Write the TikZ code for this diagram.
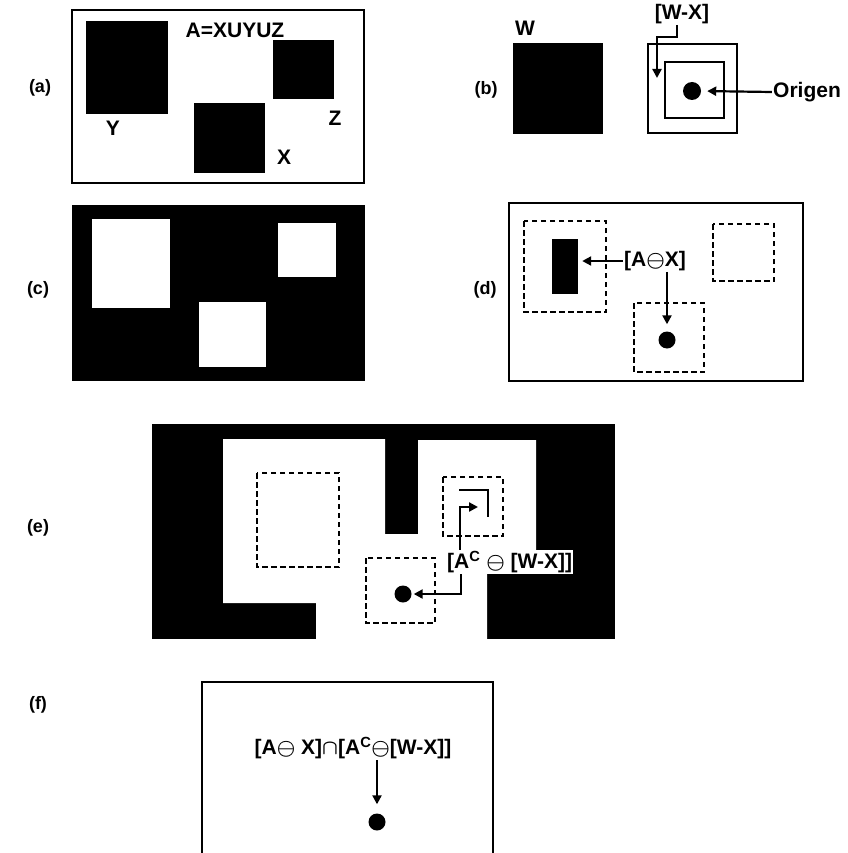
\documentclass[tikz,border=0pt]{standalone}
\usepackage{fontspec}
\setmainfont{Liberation Sans}
\usetikzlibrary{arrows.meta}
\begin{document}
\begin{tikzpicture}[x=1pt,y=-1pt,
    frame/.style={line width=2.4pt},
    dashbox/.style={line width=2.6pt,dash pattern=on 5.5pt off 3.5pt},
    arr/.style={line width=2.2pt,-{Triangle[length=9pt,width=9pt]}},
    lbl/.style={font=\fontsize{21}{23}\selectfont\bfseries\boldmath,inner sep=1pt},
    tag/.style={font=\fontsize{18}{20}\selectfont\bfseries},
    dot/.style={circle,fill,inner sep=0pt,minimum size=17pt}]
    \useasboundingbox (0,0) rectangle (847,853);
    % (a)
    \node[tag] (ta) at (40,88) {(a)};
    \draw[frame] (72,10) rectangle (364,183);
    \fill (86,21) rectangle (168,114);
    \fill (273,40) rectangle (334,99);
    \fill (194,103) rectangle (265,173);
    \node[lbl] (eqa) at (235,30) {A=XUYUZ};
    \node[lbl] (ly) at (113,128) {Y};
    \node[lbl] (lz) at (335,118) {Z};
    \node[lbl] (lx) at (284,157) {X};
    % (b)
    \node[tag] (tb) at (486,90) {(b)};
    \fill (513,43) rectangle (603,134);
    \node[lbl] (lw) at (525,28) {W};
    \draw[frame] (648,44) rectangle (737,133);
    \draw[frame] (665,62) rectangle (724,118);
    \node[dot,minimum size=18pt] (orig) at (692,91) {};
    \node[lbl] (lorig) at (807,92) {Origen};
    \draw[arr,shorten >=6pt] (lorig.west) -- (orig.east);
    \node[lbl] (wx) at (682,14) {[W-X]};
    \coordinate (ring) at (657,78);
    \draw[arr] ([xshift=-5pt]wx.south) |- (ring |- 0,37) -- (ring);
    % (c)
    \node[tag] (tc) at (38,290) {(c)};
    \fill (72,205) rectangle (365,381);
    \fill[white] (92,219) rectangle (170,308);
    \fill[white] (278,223) rectangle (336,277);
    \fill[white] (199,302) rectangle (266,367);
    % (d)
    \node[tag] (td) at (485,290) {(d)};
    \draw[frame] (509,203) rectangle (803,381);
    \draw[dashbox] (524,221) rectangle (606,312);
    \draw[dashbox] (713,224) rectangle (774,281);
    \draw[dashbox] (634,303) rectangle (704,372);
    \node[fill,inner sep=0pt,minimum width=26pt,minimum height=55pt] (ero) at (565,266) {};
    \node[lbl] (ax) at (655,261) {[A$\ominus$X]};
    \node[dot] (dotd) at (667,340) {};
    \draw[arr,shorten >=4pt] (ax.west) -- (ax.west -| ero.east);
    \draw[arr,shorten >=7pt] (ax.south -| dotd) -- (dotd.north);
    % (e)
    \node[tag] (te) at (38,528) {(e)};
    \fill (152,424) rectangle (615,639);
    \fill[white] (223,439) -- (385,439) -- (385,534) -- (418,534) -- (418,440)
        -- (536,440) -- (536,573) -- (487,573) -- (487,639) -- (316,639)
        -- (316,603) -- (223,603) -- cycle;
    \draw[dashbox] (257,473) rectangle (339,567);
    \draw[dashbox] (443,477) rectangle (503,536);
    \draw[dashbox] (366,558) rectangle (435,623);
    \draw[line width=1.8pt] (459,490) -- (488,490) -- (488,517);
    \coordinate (ecorner) at (478,507);
    \node[lbl,fill=white,anchor=west] (ace) at (446,562) {[A\textsuperscript{C} $\ominus$ [W-X]]};
    \node[dot] (dote) at (403,594) {};
    \draw[arr] ([xshift=14pt]ace.north west) |- (ecorner);
    \draw[arr,shorten >=2pt] ([xshift=15pt]ace.south west) |- (dote.east);
    % (f)
    \node[tag] (tf) at (38,705) {(f)};
    \draw[frame] (202,853) -- (202,682) -- (493,682) -- (493,853);
    \node[lbl] (res) at (353,748) {[A$\ominus$ X]$\cap$[A\textsuperscript{C}$\ominus$[W-X]]};
    \node[dot] (dotf) at (377,822) {};
    \draw[arr,shorten >=9pt] (res.south -| dotf) -- (dotf.north);
\end{tikzpicture}
\end{document}
